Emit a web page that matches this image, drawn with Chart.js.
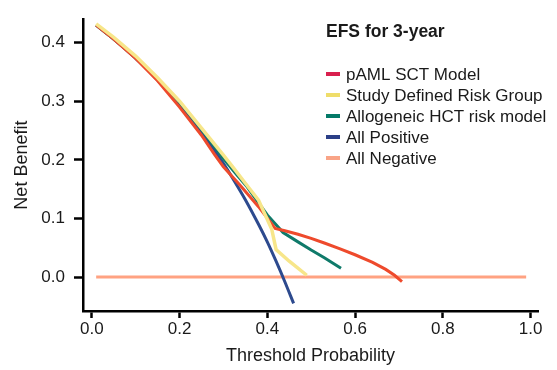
<!DOCTYPE html>
<html>
<head>
<meta charset="utf-8">
<script src="https://cdn.jsdelivr.net/npm/chart.js@4.4.0/dist/chart.umd.min.js"></script>
<style>
  body { margin: 0; background: #fff; }
  canvas { display: block; }
</style>
</head>
<body>
<canvas id="dca" width="557" height="370"></canvas>
<script>
// series labels (legend order)
var seriesNames = [
  "pAML SCT Model",
  "Study Defined Risk Group",
  "Allogeneic HCT risk model",
  "All Positive",
  "All Negative"
];

// threshold probabilities and net benefit
var pamlX = [0.01, 0.05, 0.10, 0.15, 0.20, 0.25, 0.28, 0.30, 0.34, 0.38, 0.418, 0.44, 0.47, 0.50, 0.53, 0.566, 0.60, 0.64, 0.67, 0.69, 0.707];
var pamlY = [0.430, 0.406, 0.373, 0.335, 0.290, 0.242, 0.209, 0.188, 0.155, 0.120, 0.083, 0.079, 0.073, 0.066, 0.058, 0.048, 0.038, 0.025, 0.013, 0.003, -0.008];

var studyX = [0.01, 0.05, 0.10, 0.15, 0.20, 0.25, 0.30, 0.322, 0.35, 0.38, 0.41, 0.42, 0.45, 0.49];
var studyY = [0.432, 0.409, 0.377, 0.340, 0.300, 0.254, 0.208, 0.187, 0.160, 0.131, 0.082, 0.047, 0.027, 0.003];

var alloX = [0.01, 0.05, 0.10, 0.15, 0.20, 0.25, 0.28, 0.30, 0.33, 0.354, 0.376, 0.40, 0.436, 0.47, 0.50, 0.53, 0.568];
var alloY = [0.430, 0.406, 0.374, 0.338, 0.298, 0.252, 0.222, 0.202, 0.175, 0.154, 0.131, 0.106, 0.076, 0.060, 0.046, 0.033, 0.015];

var allPosX = [0.01, 0.03, 0.05, 0.08, 0.10, 0.12, 0.15, 0.18, 0.20, 0.22, 0.25, 0.28, 0.30, 0.32, 0.35, 0.38, 0.40, 0.42, 0.44, 0.46];
var allPosY = [0.430, 0.418, 0.406, 0.387, 0.373, 0.359, 0.336, 0.312, 0.295, 0.277, 0.248, 0.216, 0.194, 0.170, 0.132, 0.090, 0.060, 0.027, -0.008, -0.045];

var allNegX = [0.01, 0.99];
var allNegY = [0, 0];

var xTicks = [0, 0.2, 0.4, 0.6, 0.8, 1.0];
var yTicks = [0, 0.1, 0.2, 0.3, 0.4];

var lineColors = ["#ee4a2c", "#f7e68a", "#0f7a6a", "#2d4a8e", "#ffa282"];
var legendColors = ["#d9204e", "#efdd6a", "#047a68", "#2b3f87", "#f9a487"];
// stacking: lower number is drawn on top
var drawOrder = [1, 0, 2, 3, 4];

function pts(xs, ys) {
  return xs.map(function (x, i) { return { x: x, y: ys[i] }; });
}

var FONT = "'Liberation Sans', Arial, sans-serif";

// legend drawn inside the plot, like the original
var insideLegend = {
  id: "insideLegend",
  afterDraw: function (chart) {
    var c = chart.ctx;
    c.save();
    c.textBaseline = "middle";
    c.textAlign = "left";
    c.fillStyle = "#1a1a1a";
    c.font = "bold 17.5px " + FONT;
    c.fillText("EFS for 3-year", 326, 32);
    c.font = "17px " + FONT;
    for (var i = 0; i < seriesNames.length; i++) {
      var y = 74 + i * 21;
      c.strokeStyle = legendColors[i];
      c.lineWidth = 4;
      c.beginPath();
      c.moveTo(326, y);
      c.lineTo(340, y);
      c.stroke();
      c.fillStyle = "#1a1a1a";
      c.fillText(seriesNames[i], 346, y + 1);
    }
    c.restore();
  }
};

var xsList = [pamlX, studyX, alloX, allPosX, allNegX];
var ysList = [pamlY, studyY, alloY, allPosY, allNegY];
var widths = [3, 3.5, 3, 3, 3];

var datasets = seriesNames.map(function (name, i) {
  return {
    label: name,
    data: pts(xsList[i], ysList[i]),
    borderColor: lineColors[i],
    borderWidth: widths[i],
    order: drawOrder[i],
    cubicInterpolationMode: i === 3 ? "monotone" : "default"
  };
});

var ctx = document.getElementById("dca").getContext("2d");
var chart = new Chart(ctx, {
  type: "line",
  data: { datasets: datasets },
  options: {
    responsive: false,
    animation: false,
    elements: { point: { radius: 0 }, line: { tension: 0, borderCapStyle: "butt" } },
    layout: { padding: { top: 10, right: 19, left: 0, bottom: 0 } },
    plugins: { legend: { display: false }, tooltip: { enabled: false } },
    scales: {
      x: {
        type: "linear",
        min: -0.02,
        max: 1.017,
        afterFit: function (s) { s.height = 59; },
        afterBuildTicks: function (s) { s.ticks = xTicks.map(function (v) { return { value: v }; }); },
        ticks: {
          callback: function (v) { return v.toFixed(1); },
          font: { family: FONT, size: 17 },
          color: "#1a1a1a",
          padding: 1
        },
        grid: { drawOnChartArea: false, drawTicks: true, tickLength: 7, tickColor: "#000", tickWidth: 2.5 },
        border: { color: "#000", width: 2.5 },
        title: {
          display: true,
          text: "Threshold Probability",
          font: { family: FONT, size: 18 },
          color: "#1a1a1a",
          padding: { top: 0, bottom: 3 }
        }
      },
      y: {
        type: "linear",
        min: -0.058,
        max: 0.44,
        afterFit: function (s) { s.width = 83; },
        afterBuildTicks: function (s) { s.ticks = yTicks.map(function (v) { return { value: v }; }); },
        ticks: {
          callback: function (v) { return v.toFixed(1); },
          font: { family: FONT, size: 17 },
          color: "#1a1a1a",
          padding: 9
        },
        grid: { drawOnChartArea: false, drawTicks: true, tickLength: 9, tickColor: "#000", tickWidth: 2.5 },
        border: { color: "#000", width: 2.5 },
        title: {
          display: true,
          text: "Net Benefit",
          font: { family: FONT, size: 18 },
          color: "#1a1a1a",
          padding: { top: 11, bottom: 0 }
        }
      }
    }
  },
  plugins: [insideLegend]
});
</script>
</body>
</html>
